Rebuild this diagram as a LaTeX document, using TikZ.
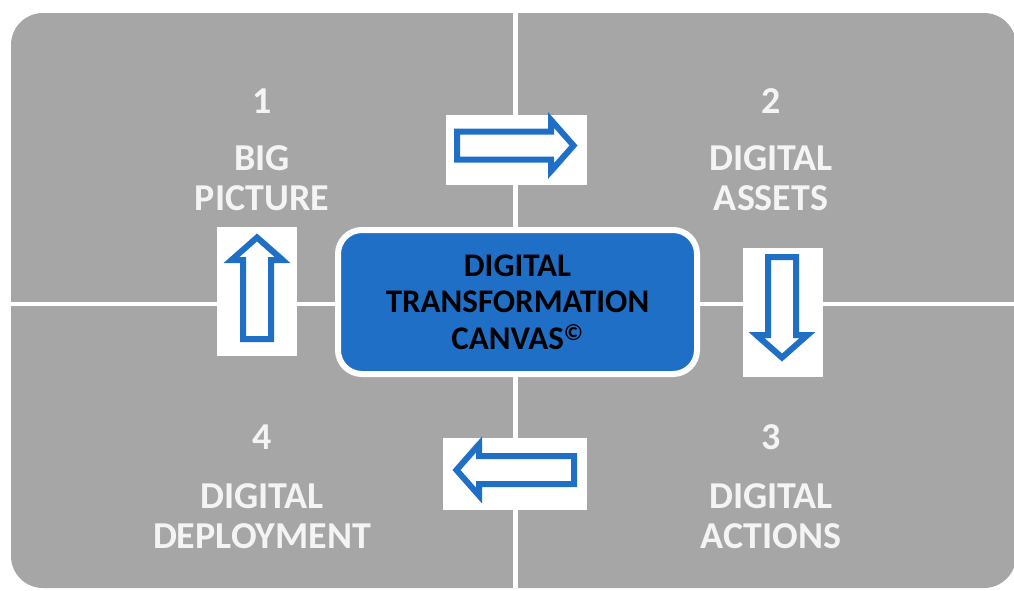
\documentclass[tikz,border=0pt]{standalone}
\usepackage{fontspec}
\setmainfont{Carlito}
\definecolor{bggray}{HTML}{A6A6A6}
\definecolor{canvasblue}{HTML}{1F6FC6}
\definecolor{labelwhite}{HTML}{F4F4F4}
\tikzset{
  quad/.style={font=\fontsize{38}{40}\selectfont\bfseries, text=labelwhite, align=center, inner sep=0pt},
  arrowbox/.style={fill=white, draw=none, inner sep=0pt},
  blockarrow/.pic={
    \fill[black, opacity=0.12] (-#1/2+4,-11) -- (#1/2-25,-11) -- (#1/2-25,-23) -- (#1/2-2,2) -- (#1/2-25,29) -- (#1/2-25,16) -- (-#1/2+4,16) -- cycle;
    \draw[draw=canvasblue, fill=white, line width=6pt, line join=miter]
      (-#1/2+3,-14) -- (#1/2-27,-14) -- (#1/2-27,-25.5) -- (#1/2-4.5,0)
      -- (#1/2-27,25.5) -- (#1/2-27,14) -- (-#1/2+3,14) -- cycle;
  }
}
\begin{document}
\begin{tikzpicture}[x=1pt,y=-1pt]
\useasboundingbox (0,0) rectangle (1014,590);
% background
\fill[bggray, rounded corners=32pt] (11,13) rectangle (1016,588);
\draw[white, line width=4.5pt] (515.5,13) -- (515.5,588);
\draw[white, line width=4pt] (11,304) -- (1016,304);

% quadrant labels
\node[quad] (n1) at (262,101) {1};
\node[quad] (t1) at (262,178) {BIG\\PICTURE};
\node[quad] (n2) at (771,101) {2};
\node[quad] (t2) at (771,178) {DIGITAL\\ASSETS};
\node[quad] (n4) at (262,437) {4};
\node[quad] (t4) at (262,516) {DIGITAL\\DEPLOYMENT};
\node[quad] (n3) at (771,437) {3};
\node[quad] (t3) at (771,516) {DIGITAL\\ACTIONS};

% center
\node[draw=white, line width=6pt, fill=canvasblue, rounded corners=24pt,
      minimum width=359pt, minimum height=144pt, inner sep=0pt, align=center,
      font=\fontsize{33}{36.5}\selectfont\bfseries, text=black] (canvas) at (517.5,302)
  {DIGITAL\\TRANSFORMATION\\CANVAS\textsuperscript{\textcopyright}};

% arrow boxes
\node[arrowbox, minimum width=141pt, minimum height=70pt] (boxR) at (516.5,150) {};
\node[arrowbox, minimum width=80pt, minimum height=129pt] (boxU) at (257,291.5) {};
\node[arrowbox, minimum width=80pt, minimum height=129pt] (boxD) at (783,312.5) {};
\node[arrowbox, minimum width=144pt, minimum height=72pt] (boxL) at (515,474) {};

% arrows
\pic (arR) at (516,145.5) {blockarrow=124};
\pic[rotate=90] (arU) at (257,287.5) {blockarrow=109};
\pic[rotate=-90] (arD) at (782,308) {blockarrow=108};
\pic[rotate=180] (arL) at (514.5,470) {blockarrow=125};
\end{tikzpicture}
\end{document}
